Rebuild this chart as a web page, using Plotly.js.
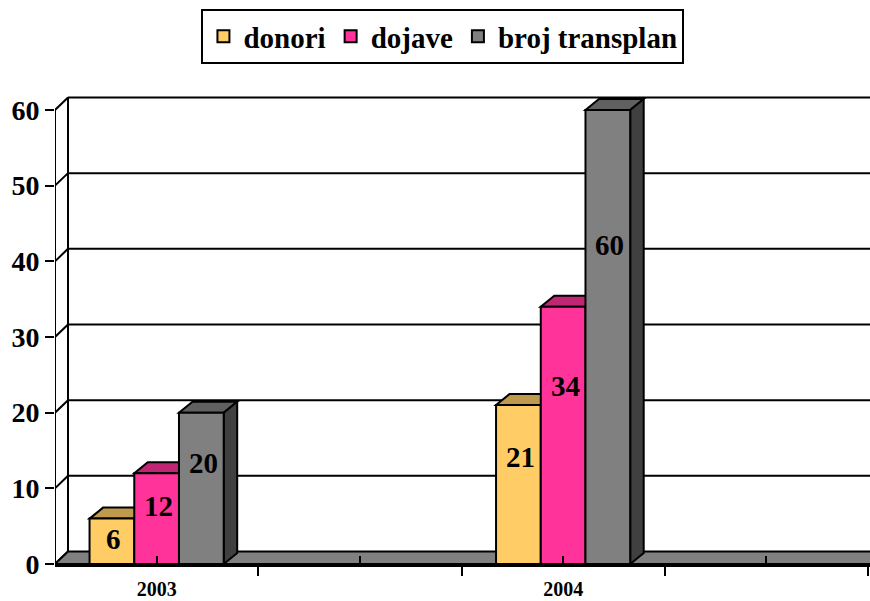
<!DOCTYPE html>
<html>
<head>
<meta charset="utf-8">
<script src="https://cdn.plot.ly/plotly-3.0.1.min.js"></script>
<style>html,body{margin:0;padding:0;background:#fff;}#chart{width:870px;height:601px;}</style>
</head>
<body>
<div id="chart"></div>
<script>
// ---- data ----
const years = ['2003', '2004'];
const donori = [6, 21];
const dojave = [12, 34];
const brojTransplan = [20, 60];
const seriesNames = ['donori', 'dojave', 'broj transplan'];
const yTickVals = [0, 10, 20, 30, 40, 50, 60];
const xTickText = ['2003', '', '2004', ''];

// ---- styling / geometry ----
const seriesValues = [donori, dojave, brojTransplan];
const frontColors = ['#FFCC66', '#FF3399', '#808080'];
const topColors = ['#BF994C', '#BF2673', '#606060'];
const sideColors = ['#806633', '#801A4D', '#404040'];
const slotOf = i => 2 * i + 0.5;      // each year sits in every other slot
const barW = 0.22;
const offsets = [-0.33, -0.11, 0.11];
const pxPerX = 203.25, pxPerY = 7.567;
const wdx = 13 / pxPerX, wdy = 12.5 / pxPerY;   // wall depth
const bdx = 13.5 / pxPerX, bdy = 11 / pxPerY;   // bar depth
const xMax = 815 / pxPerX;
const yMax = 468 / pxPerY;
const font = 'Liberation Serif';

const shapes = [];
const line = (x0, y0, x1, y1, w) => ({type: 'line', xref: 'x', yref: 'y', x0, y0, x1, y1, layer: 'below', line: {color: '#000', width: w || 2}});
const poly = (pts, fill) => ({type: 'path', xref: 'x', yref: 'y', layer: 'below',
  path: 'M' + pts.map(p => p[0] + ',' + p[1]).join('L') + 'Z', fillcolor: fill, line: {color: '#000', width: 2}});

// back wall gridlines and left wall
yTickVals.forEach(v => {
  if (v > 0) shapes.push(line(wdx, v + wdy, xMax + 1, v + wdy, 2));
  shapes.push(line(0, v, wdx, v + wdy, 2));
});
shapes.push(line(wdx, wdy, wdx, yTickVals[yTickVals.length - 1] + wdy, 2));
// floor
shapes.push(poly([[0, 0], [xMax + 1, 0], [xMax + 1 + wdx, wdy], [wdx, wdy]], '#808080'));
// front y axis line
shapes.push(line(0, 0, 0, yTickVals[yTickVals.length - 1], 2));

const traces = [];
const annotations = [];
seriesValues.forEach((vals, k) => {
  traces.push({
    type: 'bar', name: '<b>' + seriesNames[k] + '</b>',
    x: years.map((_, i) => slotOf(i)), y: vals,
    width: barW, offset: offsets[k],
    marker: {color: frontColors[k], line: {color: '#000', width: 2}},
    hoverinfo: 'y'
  });
});
years.forEach((_, i) => {
  seriesValues.forEach((vals, k) => {
    const v = vals[i];
    const x0 = slotOf(i) + offsets[k], x1 = x0 + barW;
    shapes.push(poly([[x0, v], [x1, v], [x1 + bdx, v + bdy], [x0 + bdx, v + bdy]], topColors[k]));
    shapes.push(poly([[x1, 0], [x1 + bdx, bdy], [x1 + bdx, v + bdy], [x1, v]], sideColors[k]));
    annotations.push({x: x0 + barW / 2, y: 0.72 * v - 1, xref: 'x', yref: 'y', text: '<b>' + v + '</b>',
      showarrow: false, xshift: 2, font: {family: font, size: 29, color: '#000'}});
  });
});

const layout = {
  width: 870, height: 601,
  margin: {l: 55, r: 0, t: 96, b: 37},
  paper_bgcolor: '#fff', plot_bgcolor: 'rgba(0,0,0,0)',
  font: {family: font, color: '#000'},
  barmode: 'overlay',
  showlegend: true,
  legend: {orientation: 'h', x: 0.476, xanchor: 'center', y: 1.186, yanchor: 'top',
    bordercolor: '#000', borderwidth: 2, bgcolor: '#fff', itemsizing: 'constant',
    font: {family: font, size: 29, color: '#000'}},
  xaxis: {range: [0, xMax], showgrid: false, zeroline: false,
    showline: true, linecolor: '#000', linewidth: 3,
    tickmode: 'array', tickvals: [0.5, 1.5, 2.5, 3.5], ticktext: xTickText.map(t => t ? '<b>' + t + '</b>' : ''),
    ticks: 'inside', ticklen: 8, tickwidth: 2, tickcolor: '#000',
    ticklabelstandoff: 5,
    tickfont: {family: font, size: 20, color: '#000'},
    minor: {tickmode: 'array', tickvals: [0, 1, 2, 3, 4], ticks: 'outside', ticklen: 9, tickwidth: 2, tickcolor: '#000', showgrid: false},
    fixedrange: true},
  yaxis: {range: [0, yMax], showgrid: false, zeroline: false, showline: false,
    tickmode: 'array', tickvals: yTickVals, ticktext: yTickVals.map(v => '<b>' + v + '</b>'),
    ticks: 'outside', ticklen: 9, tickwidth: 2, tickcolor: '#000',
    tickfont: {family: font, size: 28, color: '#000'},
    fixedrange: true},
  shapes: shapes,
  annotations: annotations
};

Plotly.newPlot('chart', traces, layout, {displayModeBar: false, staticPlot: true});
</script>
</body>
</html>
